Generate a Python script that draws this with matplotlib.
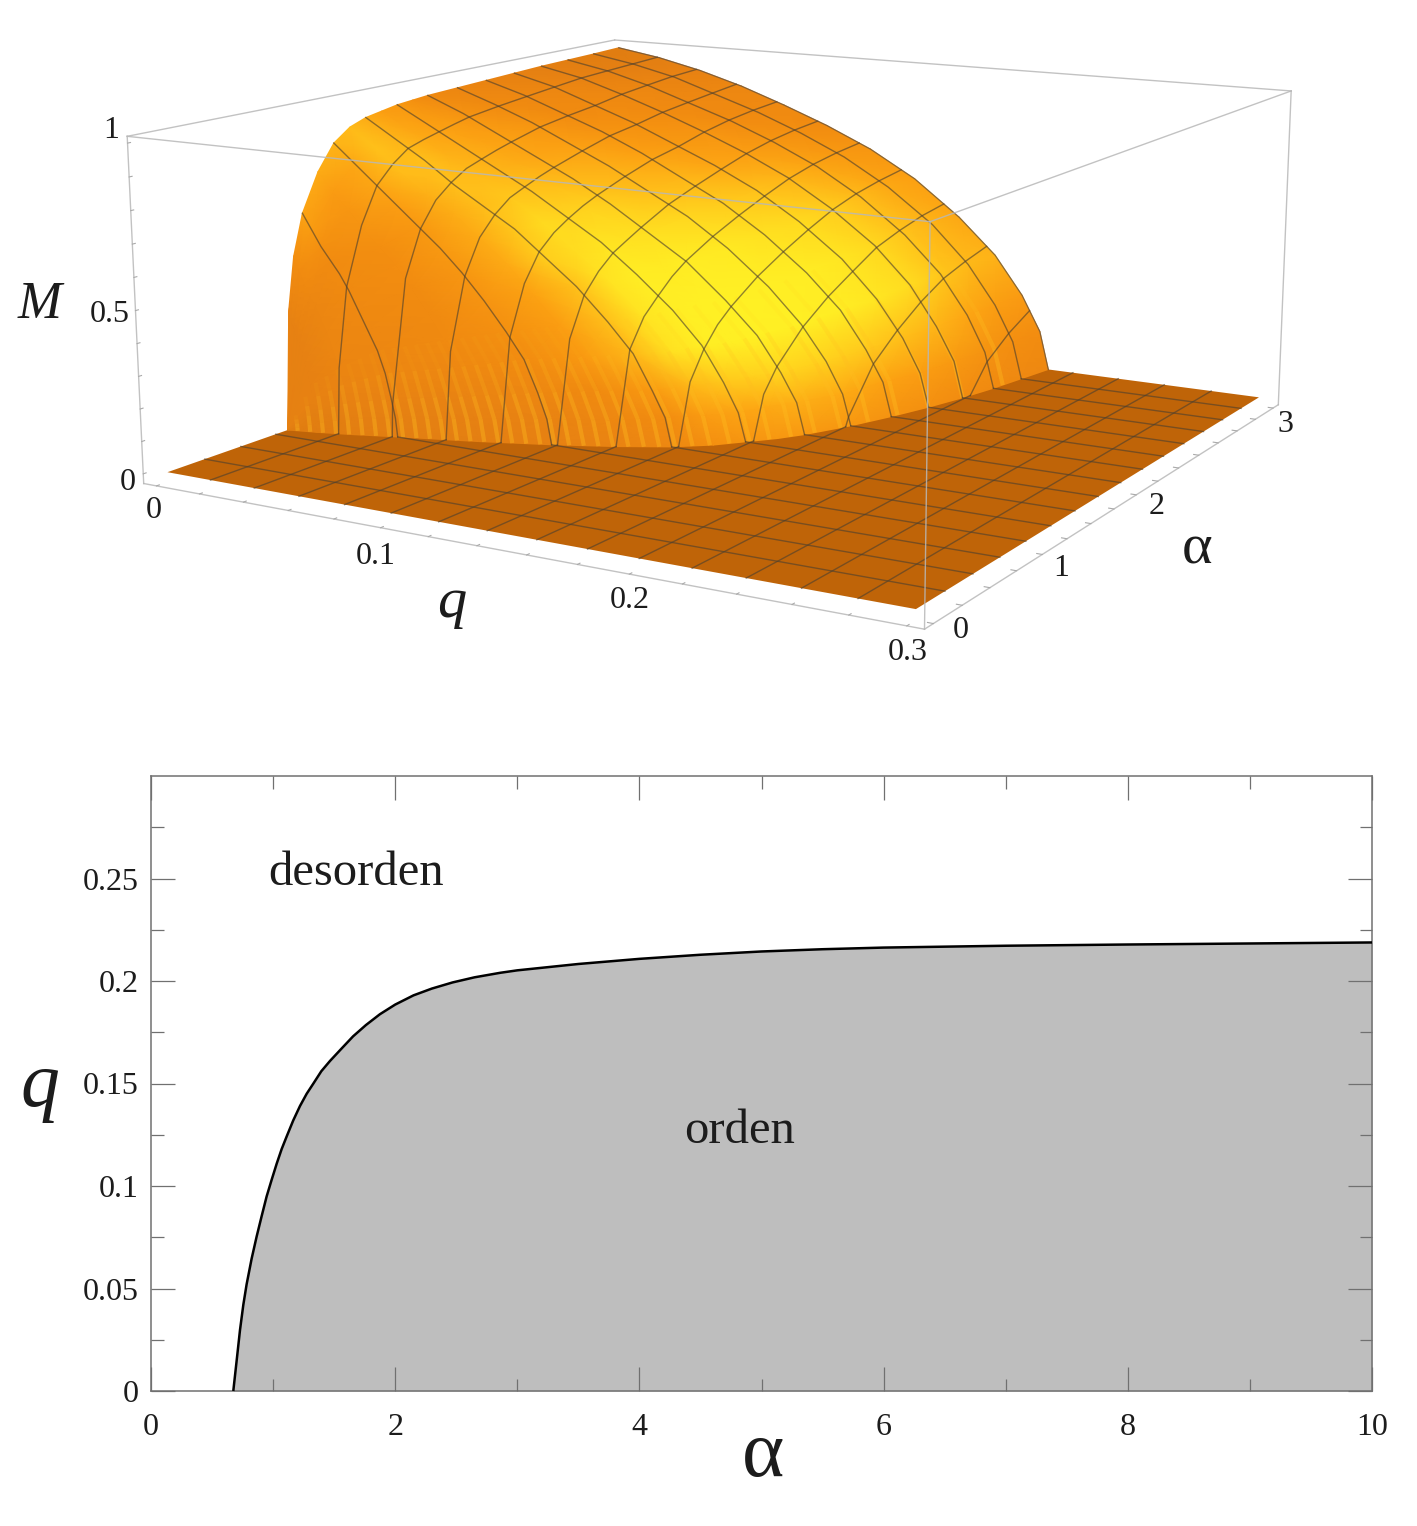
import numpy as np
import matplotlib
matplotlib.use("Agg")
import matplotlib.pyplot as plt
from matplotlib.colors import LinearSegmentedColormap
from matplotlib.collections import LineCollection

plt.rcParams['font.family'] = ['Liberation Serif', 'DejaVu Serif']

# ---------- phase boundary (lower panel) ----------
boundary_alpha = [0.674, 0.70, 0.729, 0.756, 0.783, 0.824, 0.865, 0.905, 0.947, 0.988, 1.03, 1.07, 1.11,
                  1.165, 1.22, 1.275, 1.33, 1.395, 1.466, 1.56, 1.655, 1.76, 1.875, 2.0, 2.15, 2.3, 2.47,
                  2.65, 2.86, 3.0, 3.5, 4.0, 4.5, 5.0, 5.5, 6.0, 7.0, 8.0, 9.0, 10.0]
boundary_q = [0.0, 0.014, 0.0298, 0.042, 0.052, 0.0645, 0.0753, 0.085, 0.0949, 0.103, 0.111, 0.118, 0.124,
              0.132, 0.139, 0.145, 0.150, 0.156, 0.161, 0.167, 0.173, 0.1785, 0.1838, 0.1885, 0.193, 0.1963, 0.1993,
              0.2018, 0.204, 0.2052, 0.2083, 0.2108, 0.2128, 0.2144, 0.2155, 0.2163, 0.2172, 0.2178, 0.2183, 0.2188]

# ---------- surface M(q, alpha) (upper panel) ----------
surf_alpha = [0.67, 0.70, 0.74, 0.8, 0.9, 1.0, 1.1, 1.2, 1.3, 1.4, 1.5, 1.6, 1.8, 2.0, 2.2, 2.4, 2.6, 2.8, 3.0]
surf_qc = [0.0, 0.012, 0.025, 0.042, 0.072, 0.098, 0.12, 0.138, 0.15, 0.158, 0.166, 0.172, 0.181, 0.188,
           0.194, 0.199, 0.203, 0.206, 0.209]
surf_frac = [0.0, 0.1, 0.2, 0.3, 0.4, 0.5, 0.6, 0.7, 0.8, 0.88, 0.94, 0.98, 1.0]
surf_M = [
    [0, 0, 0, 0, 0, 0, 0, 0, 0, 0, 0, 0, 0],
    [.38, .35, .33, .30, .28, .25, .22, .19, .15, .11, .07, .03, 0],
    [.55, .51, .47, .43, .40, .36, .32, .27, .21, .16, .10, .05, 0],
    [.68, .63, .58, .54, .50, .45, .39, .33, .27, .20, .12, .06, 0],
    [.80, .74, .69, .63, .58, .53, .46, .39, .31, .23, .14, .07, 0],
    [.88, .82, .76, .70, .64, .58, .51, .43, .34, .26, .16, .08, 0],
    [.92, .86, .79, .73, .68, .61, .54, .45, .36, .27, .17, .08, 0],
    [.94, .88, .82, .75, .69, .63, .55, .47, .37, .28, .17, .09, 0],
    [.95, .89, .83, .77, .71, .64, .56, .48, .38, .28, .18, .09, 0],
    [.96, .90, .84, .78, .72, .65, .58, .49, .39, .29, .18, .09, 0],
    [.965, .91, .85, .79, .73, .66, .58, .50, .40, .29, .19, .10, 0],
    [.97, .92, .86, .80, .74, .67, .59, .51, .40, .30, .19, .10, 0],
    [.975, .93, .88, .82, .76, .69, .62, .53, .42, .31, .20, .10, 0],
    [.98, .94, .89, .84, .78, .71, .64, .55, .44, .33, .21, .11, 0],
    [.985, .95, .90, .85, .79, .73, .66, .57, .46, .34, .22, .11, 0],
    [.99, .96, .915, .865, .81, .75, .68, .59, .48, .36, .23, .12, 0],
    [.993, .965, .925, .875, .825, .765, .695, .605, .49, .37, .24, .12, 0],
    [.996, .97, .935, .885, .835, .775, .705, .615, .50, .375, .245, .125, 0],
    [1.0, .975, .94, .895, .84, .78, .71, .62, .50, .38, .25, .13, 0],
]
mesh_q = [0.02, 0.04, 0.06, 0.08, 0.10, 0.12, 0.14, 0.16, 0.18, 0.20, 0.22, 0.24, 0.26, 0.28]
mesh_alpha = [0.2, 0.4, 0.6, 0.8, 1.0, 1.2, 1.4, 1.6, 1.8, 2.0, 2.2, 2.4, 2.6, 2.8]

# ---------- view of the 3D box: (q, alpha, M) -> (pixel x, pixel y) ----------
view_points = [
    (-0.006, -0.06, 1.02, 127, 137), (-0.006, -0.06, -0.03, 141, 482),
    (-0.006, 3.06, 1.02, 615, 40), (0.306, -0.06, 1.02, 930, 222),
    (0.306, -0.06, -0.03, 924, 628), (0.306, 3.06, 1.02, 1291, 90),
    (0.306, 3.06, -0.03, 1279, 404),
    (0.0, 0.0, 0.0, 170, 473), (0.3, 0.0, 0.0, 917, 610), (0.3, 3.0, 0.0, 1258, 399),
]
rows = []
for q_, a_, m_, u_, v_ in view_points:
    X = [q_ / 0.3, a_ / 3.0, m_, 1.0]
    u_, v_ = u_ / 1000.0, v_ / 1000.0
    rows.append(X + [0, 0, 0, 0] + [-u_ * c for c in X])
    rows.append([0, 0, 0, 0] + X + [-v_ * c for c in X])
CAM = np.linalg.svd(np.array(rows))[2][-1].reshape(3, 4)


def project(q, a, m):
    q, a, m = np.broadcast_arrays(np.asarray(q, float), np.asarray(a, float), np.asarray(m, float))
    h = np.stack([q / 0.3, a / 3.0, m, np.ones_like(q)], axis=-1) @ CAM.T
    return 1000 * h[..., 0] / h[..., 2], 1000 * h[..., 1] / h[..., 2]


fig = plt.figure(figsize=(14.17, 15.26), dpi=100)
ax3 = fig.add_axes([0, 0, 1, 1])
ax3.set_xlim(0, 1417)
ax3.set_ylim(1526, 0)
ax3.axis('off')

FLOOR = '#bf6408'
MESH = (0.30, 0.25, 0.18, 0.62)
BOX = '#b8b8b8'

# floor
fx, fy = project([0, 0.3, 0.3, 0], [0, 0, 3, 3], [0, 0, 0, 0])
ax3.fill(fx, fy, color=FLOOR, lw=0, zorder=1)

# surface nodes
A = np.array(surf_alpha)
QC = np.array(surf_qc)
S = np.array(surf_frac)
M = np.array(surf_M, float)
AA = np.repeat(A[:, None], len(S), axis=1)
QQ = QC[:, None] * S[None, :]

# lighting from node normals and a point light in front of the dome
P = np.stack([QQ / 0.3, AA / 3.0, M], axis=-1)
di = np.gradient(P, axis=0)
dj = np.gradient(P, axis=1)
N = np.cross(di, dj)
nrm = np.linalg.norm(N, axis=-1, keepdims=True)
N = np.where(nrm > 1e-9, N / np.maximum(nrm, 1e-9), 0.0)
N[0] = N[1]
N = N * np.where(N[..., 2:] < 0, -1.0, 1.0)
L = np.array([2.0, -0.3, 1.0]) - P
L = L / np.linalg.norm(L, axis=-1, keepdims=True)
shade = np.clip(np.sum(N * L, axis=-1), 0, 1)
shade[:, -3:] -= np.array([0.06, 0.11, 0.15])
cmap = LinearSegmentedColormap.from_list('lit', [
    (0.0, '#d47410'), (0.5, '#e88212'), (0.68, '#f28c10'), (0.8, '#fca012'),
    (0.88, '#ffc01a'), (0.94, '#ffdd20'), (0.98, '#ffee24'), (1.0, '#fff024')])
X3, Y3 = project(QQ, AA, M)
ax3.pcolormesh(X3, Y3, shade, shading='gouraud', cmap=cmap, vmin=0, vmax=1, zorder=2)

# serrated streaks at the foot of the cliff, running along constant alpha
segs, cols = [], []
seg_frac = S[-5:][::-1]
seg_alpha = [0.38, 0.32, 0.2, 0.07]
for q in np.arange(0.004, 0.209, 0.005):
    a = np.interp(q, QC, A)
    qc = np.interp(a, A, QC)
    mm = [np.interp(a, A, M[:, j]) for j in range(len(S) - 5, len(S))][::-1]
    x, y = project(qc * seg_frac, np.full(5, a), mm)
    for k in range(4):
        segs.append([(x[k], y[k]), (x[k + 1], y[k + 1])])
        cols.append((1.0, 0.74, 0.12, seg_alpha[k]))
ax3.add_collection(LineCollection(segs, colors=cols, linewidths=3.0, zorder=2.5, capstyle='butt'))

# mesh lines: constant alpha
for a in mesh_alpha:
    if a >= A[0]:
        i = int(np.argmin(np.abs(A - a)))
        x, y = project(QQ[i], AA[i], M[i])
        ax3.plot(x, y, color=MESH, lw=1.0, zorder=3)
        qstart = QC[i]
    else:
        qstart = 0.0
    x, y = project([qstart, 0.3], [a, a], [0, 0])
    ax3.plot(x, y, color=MESH, lw=1.0, zorder=3)

# mesh lines: constant q
for q in mesh_q:
    if q < QC[-1]:
        a0 = np.interp(q, QC, A)
        keep = QC > q
        mq = [np.interp(q, QQ[i], M[i]) for i in np.where(keep)[0]]
        x, y = project(np.full(keep.sum() + 1, q), np.r_[a0, A[keep]], np.r_[0.0, mq])
        ax3.plot(x, y, color=MESH, lw=1.0, zorder=3)
        aend = a0
    else:
        aend = 3.0
    x, y = project([q, q], [0, aend], [0, 0])
    ax3.plot(x, y, color=MESH, lw=1.0, zorder=3)

# silhouette of the alpha = 3 edge
x, y = project(QQ[-1], AA[-1], M[-1])
ax3.plot(x, y, color=(0.35, 0.3, 0.25, 0.7), lw=0.9, zorder=3)

# bounding box
q0, q1, a0, a1, m0, m1 = -0.006, 0.306, -0.06, 3.06, -0.03, 1.02
edges = [((q0, a0, m1), (q0, a1, m1)), ((q0, a1, m1), (q1, a1, m1)), ((q1, a1, m1), (q1, a0, m1)),
         ((q1, a0, m1), (q0, a0, m1)), ((q0, a0, m0), (q0, a0, m1)), ((q1, a0, m0), (q1, a0, m1)),
         ((q1, a1, m0), (q1, a1, m1)), ((q0, a0, m0), (q1, a0, m0)), ((q1, a0, m0), (q1, a1, m0))]
for p, r in edges:
    x, y = project(*zip(p, r))
    ax3.plot(x, y, color=BOX, lw=1.0, alpha=0.85, zorder=4)

# small ticks on the box
for q in np.arange(0, 0.301, 0.02):
    x, y = project([q, q], [a0, a0 + 0.015], [m0, m0])
    ax3.plot(x, y, color='#aaaaaa', lw=0.8, zorder=4)
for a in np.arange(0, 3.01, 0.2):
    x, y = project([q1, q1 - 0.002], [a, a], [m0, m0])
    ax3.plot(x, y, color='#aaaaaa', lw=0.8, zorder=4)
for m in np.arange(0, 1.01, 0.1):
    x, y = project([q0, q0], [a0, a0 + 0.015], [m, m])
    ax3.plot(x, y, color='#aaaaaa', lw=0.8, zorder=4)

TXT = '#1c1c1c'
labels3d = [("0", 154, 510), ("0.1", 376, 556), ("0.2", 630, 600), ("0.3", 908, 653),
            ("0", 961, 630), ("1", 1061, 569), ("2", 1157, 506), ("3", 1285, 424),
            ("1", 111, 131), ("0.5", 110, 315), ("0", 128, 483)]
for s_, x_, y_ in labels3d:
    ax3.text(x_, y_, s_, fontsize=23, color=TXT, ha='center', va='center')
ax3.text(452, 603, "q", fontsize=42, style='italic', color=TXT, ha='center', va='center')
ax3.text(40, 305, "M", fontsize=38, style='italic', color=TXT, ha='center', va='center')
ax3.text(1197, 550, "α", fontsize=42, color=TXT, ha='center', va='center')

# ---------- lower panel ----------
ax = fig.add_axes([151 / 1417, (1526 - 1391) / 1526, 1221 / 1417, 615 / 1526])
ax.set_xlim(0, 10)
ax.set_ylim(0, 0.3)
ax.fill_between(boundary_alpha, boundary_q, 0, color='#bebebe', lw=0, zorder=1)
ax.plot(boundary_alpha, boundary_q, color='black', lw=1.8, zorder=4, clip_on=False, solid_capstyle='butt')
for sp in ax.spines.values():
    sp.set_color('#707070')
    sp.set_linewidth(1.1)
    sp.set_zorder(3)
ax.set_xticks([0, 2, 4, 6, 8, 10])
ax.set_xticklabels(['0', '2', '4', '6', '8', '10'])
ax.set_xticks([1, 3, 5, 7, 9], minor=True)
ax.set_yticks([0, 0.05, 0.1, 0.15, 0.2, 0.25])
ax.set_yticklabels(['0', '0.05', '0.1', '0.15', '0.2', '0.25'])
ax.set_yticks([0.025, 0.075, 0.125, 0.175, 0.225, 0.275], minor=True)
ax.tick_params(which='major', direction='in', length=17.5, width=0.9, color='#707070',
               top=True, right=True, labelsize=23, labelcolor=TXT, pad=9)
ax.tick_params(axis='x', which='major', pad=16)
ax.tick_params(which='minor', direction='in', length=9, width=0.9, color='#707070',
               top=True, right=True)
ax.text(5.01, -0.032, "α", fontsize=58, color=TXT, ha='center', va='center', clip_on=False)
ax.text(-0.91, 0.148, "q", fontsize=56, style='italic', color=TXT, ha='center', va='center', clip_on=False)
ax.text(0.958, 0.2525, "desorden", fontsize=35, color=TXT, ha='left', va='center')
ax.text(4.82, 0.127, "orden", fontsize=35, color=TXT, ha='center', va='center')

fig.savefig('out.png', dpi=100)
